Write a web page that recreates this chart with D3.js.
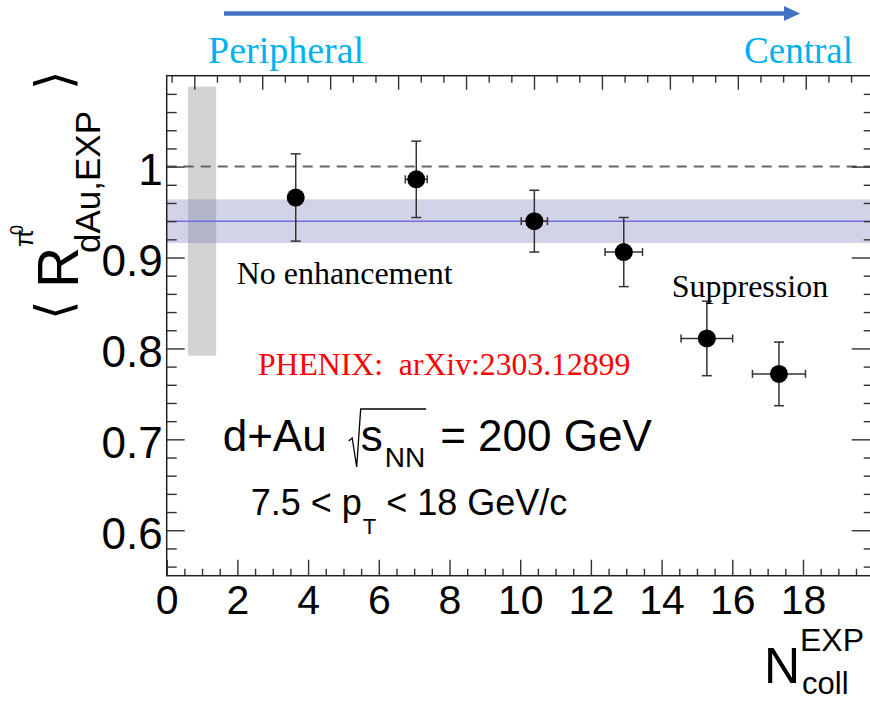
<!DOCTYPE html>
<html>
<head>
<meta charset="utf-8">
<script src="https://cdn.jsdelivr.net/npm/d3@7"></script>
<style>
  body { margin: 0; background: #fff; }
  svg { display: block; }
</style>
</head>
<body>
<svg id="canvas" width="870" height="703"></svg>
<script>
// data
const ncoll = [3.65, 7.06, 10.40, 12.93, 15.28, 17.32]
const ncollErr = [0.2, 0.31, 0.37, 0.53, 0.73, 0.75]
const rdau = [0.966, 0.986, 0.940, 0.906, 0.811, 0.772]
const rdauErr = [0.048, 0.042, 0.034, 0.038, 0.041, 0.035]
const fitValue = 0.940
const fitErr = 0.024
const globalBox = {x: 1.0, dx: 0.4, y: 0.940, dy: 0.148}
const yTicks = [0.6, 0.7, 0.8, 0.9, 1.0]
const xTicks = [0, 2, 4, 6, 8, 10, 12, 14, 16, 18]

const sans = "'Liberation Sans', Arial, sans-serif"
const serif = "'Liberation Serif', 'Times New Roman', serif"

let canvas = d3.select('#canvas')

let x = d3.scaleLinear().domain([0, 20]).range([166.7, 873.7])
let y = d3.scaleLinear().domain([0.55, 1.1]).range([575.7, 75.7])
// the top axis carries a different scale in the original
let xTop = d3.scaleLinear().domain([-0.406, 10]).range([166.7, 873.7])

// global uncertainty box
canvas.append('rect')
  .attr('x', x(globalBox.x - globalBox.dx))
  .attr('width', x(globalBox.x + globalBox.dx) - x(globalBox.x - globalBox.dx))
  .attr('y', y(globalBox.y + globalBox.dy))
  .attr('height', y(globalBox.y - globalBox.dy) - y(globalBox.y + globalBox.dy))
  .attr('fill', '#d3d3d3')

// fit band + line
canvas.append('rect')
  .attr('x', x(0)).attr('width', x(20) - x(0))
  .attr('y', y(fitValue + fitErr))
  .attr('height', y(fitValue - fitErr) - y(fitValue + fitErr))
  .attr('fill', '#6e6eb4').attr('fill-opacity', 0.3)
canvas.append('line')
  .attr('x1', x(0)).attr('x2', x(20))
  .attr('y1', y(fitValue)).attr('y2', y(fitValue))
  .attr('stroke', '#6f6fe6').attr('stroke-width', 1.5)

// unity
canvas.append('line')
  .attr('x1', x(0)).attr('x2', x(20))
  .attr('y1', y(1)).attr('y2', y(1))
  .attr('stroke', '#666').attr('stroke-width', 2)
  .attr('stroke-dasharray', '10,7')

// points
let pts = ncoll.map((n, i) => ({n: n, dn: ncollErr[i], r: rdau[i], dr: rdauErr[i]}))
let g = canvas.append('g').attr('stroke', '#333').attr('stroke-width', 1.5)
pts.forEach(p => {
  g.append('line').attr('x1', x(p.n)).attr('x2', x(p.n)).attr('y1', y(p.r - p.dr)).attr('y2', y(p.r + p.dr))
  g.append('line').attr('x1', x(p.n) - 5).attr('x2', x(p.n) + 5).attr('y1', y(p.r - p.dr)).attr('y2', y(p.r - p.dr))
  g.append('line').attr('x1', x(p.n) - 5).attr('x2', x(p.n) + 5).attr('y1', y(p.r + p.dr)).attr('y2', y(p.r + p.dr))
  g.append('line').attr('x1', x(p.n - p.dn)).attr('x2', x(p.n + p.dn)).attr('y1', y(p.r)).attr('y2', y(p.r))
  g.append('line').attr('x1', x(p.n - p.dn)).attr('x2', x(p.n - p.dn)).attr('y1', y(p.r) - 4).attr('y2', y(p.r) + 4)
  g.append('line').attr('x1', x(p.n + p.dn)).attr('x2', x(p.n + p.dn)).attr('y1', y(p.r) - 4).attr('y2', y(p.r) + 4)
})
canvas.selectAll('circle.pt')
  .data(pts)
  .enter()
  .append('circle')
  .attr('class', 'pt')
  .attr('cx', d => x(d.n))
  .attr('cy', d => y(d.r))
  .attr('r', 9)
  .attr('fill', 'black')

// axes, ticks inside
let axisStyle = (sel) => {
  sel.select('.domain').remove()
  sel.selectAll('line').attr('stroke', '#333').attr('stroke-width', 1.4)
}
let minorX = d3.range(1, 40).map(k => k / 2).filter(v => v % 2 !== 0)
let minorY = d3.range(28, 55).map(k => k / 50).filter(v => Math.abs(v * 10 - Math.round(v * 10)) > 1e-6)
let minorTop = d3.range(-1, 31).filter(k => k % 3 !== 0).map(k => k / 3)

canvas.append('g').attr('transform', `translate(0,${y(0.55)})`)
  .call(d3.axisBottom(x).tickValues(minorX).tickSize(-7).tickFormat(''))
  .call(axisStyle)
canvas.append('g').attr('transform', `translate(0,${y(0.55)})`)
  .call(d3.axisBottom(x).tickValues(xTicks).tickSize(-16).tickPadding(9).tickFormat(d3.format('d')))
  .call(axisStyle)
  .call(s => s.selectAll('text').style('font-family', sans).style('font-size', '41px').attr('fill', '#000'))

canvas.append('g').attr('transform', `translate(0,${y(1.1)})`)
  .call(d3.axisTop(xTop).tickValues(minorTop).tickSize(-7).tickFormat(''))
  .call(axisStyle)
canvas.append('g').attr('transform', `translate(0,${y(1.1)})`)
  .call(d3.axisTop(xTop).tickValues(d3.range(0, 11)).tickSize(-14).tickFormat(''))
  .call(axisStyle)

canvas.append('g').attr('transform', `translate(${x(0)},0)`)
  .call(d3.axisLeft(y).tickValues(minorY).tickSize(-10).tickFormat(''))
  .call(axisStyle)
canvas.append('g').attr('transform', `translate(${x(0)},0)`)
  .call(d3.axisLeft(y).tickValues(yTicks).tickSize(-18).tickPadding(4).tickFormat(d3.format('~g')))
  .call(axisStyle)
  .call(s => s.selectAll('text').style('font-family', sans).style('font-size', '44px').attr('fill', '#000').attr('dy', '0.41em'))

canvas.append('g').attr('transform', `translate(${x(20)},0)`)
  .call(d3.axisRight(y).tickValues(minorY).tickSize(-10).tickFormat(''))
  .call(axisStyle)
canvas.append('g').attr('transform', `translate(${x(20)},0)`)
  .call(d3.axisRight(y).tickValues(yTicks).tickSize(-22).tickFormat(''))
  .call(axisStyle)

// frame
canvas.append('rect')
  .attr('x', x(0)).attr('y', y(1.1))
  .attr('width', x(20) - x(0)).attr('height', y(0.55) - y(1.1))
  .attr('fill', 'none').attr('stroke', '#222').attr('stroke-width', 1.5)

// arrow on top
canvas.append('line')
  .attr('x1', 224).attr('x2', 786).attr('y1', 13.5).attr('y2', 13.5)
  .attr('stroke', '#4472c4').attr('stroke-width', 4.5)
canvas.append('path')
  .attr('d', 'M784,6 L800,13.5 L784,21 Z')
  .attr('fill', '#4472c4')

canvas.append('text').attr('x', 208).attr('y', 62.5)
  .style('font-family', serif).style('font-size', '38px').attr('fill', '#00b0f0')
  .text('Peripheral')
canvas.append('text').attr('x', 853).attr('y', 62.5).attr('text-anchor', 'end')
  .style('font-family', serif).style('font-size', '37px').attr('fill', '#00b0f0')
  .text('Central')

// annotations
canvas.append('text').attr('x', 236.7).attr('y', 284)
  .style('font-family', serif).style('font-size', '32px').text('No enhancement')
canvas.append('text').attr('x', 671.7).attr('y', 296.7)
  .style('font-family', serif).style('font-size', '32px').text('Suppression')
canvas.append('text').attr('x', 258).attr('y', 375)
  .style('font-family', serif).style('font-size', '31.7px').attr('fill', '#ff0000')
  .style('white-space', 'pre').text('PHENIX:  arXiv:2303.12899')

// d+Au sqrt(s_NN) = 200 GeV
let sys = canvas.append('g').style('font-family', sans)
let t1 = sys.append('text').attr('x', 222.7).attr('y', 451).style('font-size', '44px').text('d+Au')
let xs = 222.7 + t1.node().getComputedTextLength() + 22
let ts = sys.append('text').attr('x', xs + 12).attr('y', 451).style('font-size', '44px').text('s')
let xn = xs + 12 + ts.node().getComputedTextLength() + 2
let tn = sys.append('text').attr('x', xn).attr('y', 467).style('font-size', '28px').text('NN')
let xe = xn + tn.node().getComputedTextLength()
sys.append('path')
  .attr('d', `M${xs},441 L${xs + 3.5},438 L${xs + 8},467 L${xs + 12},409 L${xe + 1},409`)
  .attr('fill', 'none').attr('stroke', '#000').attr('stroke-width', 1.3)
sys.append('text').attr('x', xe + 15).attr('y', 451).style('font-size', '44px').text('= 200 GeV')

let pt = canvas.append('g').style('font-family', sans)
let p1 = pt.append('text').attr('x', 250.7).attr('y', 515).style('font-size', '36px').style('white-space', 'pre').text('7.5 < p')
let xT = 250.7 + p1.node().getComputedTextLength() + 1
let p2 = pt.append('text').attr('x', xT).attr('y', 534).style('font-size', '22px').text('T')
pt.append('text').attr('x', xT + p2.node().getComputedTextLength()).attr('y', 515).style('font-size', '36px')
  .style('white-space', 'pre').text(' < 18 GeV/c')

// x title
let xt = canvas.append('g').style('font-family', sans)
xt.append('text').attr('x', 764).attr('y', 683).style('font-size', '50px').text('N')
xt.append('text').attr('x', 800).attr('y', 651).style('font-size', '32px').text('EXP')
xt.append('text').attr('x', 802).attr('y', 694).style('font-size', '31px').text('coll')

// y title (rotated)
let ytl = canvas.append('g').attr('transform', 'rotate(-90)').style('font-family', sans)
ytl.append('text').attr('x', -320).attr('y', 71).style('font-family', "'DejaVu Sans', sans-serif").style('font-size', '50px').text('⟨')
ytl.append('text').attr('x', -288).attr('y', 78).style('font-size', '57px').text('R')
ytl.append('text').attr('x', -247).attr('y', 33).style('font-size', '26px').text('π')
ytl.append('text').attr('x', -235).attr('y', 23).style('font-size', '18px').text('0')
ytl.append('text').attr('x', -253).attr('y', 100).style('font-size', '35px').text('dAu,EXP')
ytl.append('text').attr('x', -90).attr('y', 71).style('font-family', "'DejaVu Sans', sans-serif").style('font-size', '50px').text('⟩')
</script>
</body>
</html>
